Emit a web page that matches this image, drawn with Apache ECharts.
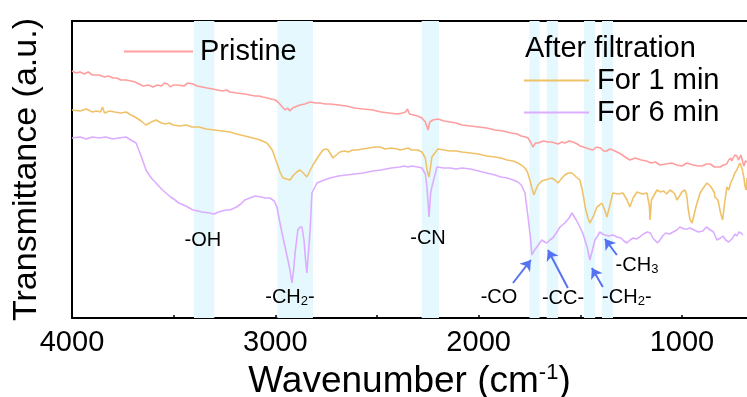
<!DOCTYPE html>
<html>
<head>
<meta charset="utf-8">
<script src="https://cdn.jsdelivr.net/npm/echarts@6/dist/echarts.min.js"></script>
<style>html,body{margin:0;padding:0;background:#fff}#c{width:747px;height:397px}</style>
</head>
<body>
<div id="c"></div>
<script>
// ---- data (wavenumber in cm-1, transmittance in arbitrary units) ----
var pristineWn = [4000,3980,3960,3940,3920,3900,3867,3840,3820,3800,3780,3760,3734,3710,3690,3670,3650,3625,3602,3580,3560,3545,3530,3515,3503,3480,3450,3430,3405,3385,3360,3335,3307,3285,3260,3240,3223,3190,3150,3125,3100,3080,3061,3040,3020,3000,2987,2965,2952,2940,2928,2915,2903,2879,2855,2829,2800,2780,2755,2731,2690,2650,2610,2569,2520,2480,2440,2400,2375,2360,2350,2347,2340,2335,2300,2279,2262,2249,2240,2225,2200,2170,2140,2110,2082,2040,2000,1960,1920,1880,1840,1810,1790,1770,1757,1745,1733,1720,1708,1695,1680,1660,1640,1625,1610,1590,1576,1555,1536,1515,1500,1485,1470,1455,1438,1420,1400,1385,1370,1355,1340,1320,1300,1280,1256,1230,1200,1175,1150,1130,1108,1080,1050,1025,1000,975,946,920,900,880,860,840,813,795,780,770,760,755,749,740,730,722,715,710,705,700,695,688,680];
var pristineT  = [247,245,246,244,246,243,243,241,242,240,240,238,238,237,236,234,232,233,231,233,232,235,234,231,233,233,232,235,234,232,231,230,229,228,227,228,226,225,224,223,222,222,221,220,219,218,216,211,208,210,207,210,211,213,214,216,215,215,214,214,213,212,210,209,208,206,205,204,205,206,209,208,204,204,202,200,196,188,196,198,199,197,196,195,193,192,191,190,188,187,185,184,182,181,180,176,171,175,175,176,177,176,176,175,174,176,175,177,176,174,172,171,170,169,168,171,170,167,167,169,168,166,164,161,158,160,158,157,155,156,153,154,155,153,152,155,153,152,152,154,154,151,151,153,154,158,160,157,158,163,162,158,156,163,161,155,152,157,156];

var min1Wn = [4000,3960,3930,3900,3880,3860,3850,3840,3815,3790,3760,3734,3710,3690,3660,3636,3610,3587,3560,3540,3520,3503,3470,3440,3410,3375,3340,3300,3260,3223,3190,3150,3110,3075,3041,3015,2992,2975,2962,2945,2928,2910,2894,2879,2862,2845,2830,2815,2790,2766,2750,2740,2728,2717,2700,2682,2660,2640,2620,2598,2570,2540,2510,2485,2460,2430,2400,2387,2365,2347,2330,2300,2279,2262,2254,2244,2236,2230,2200,2170,2140,2110,2082,2040,2000,1960,1920,1890,1860,1830,1807,1790,1772,1760,1748,1738,1728,1715,1708,1690,1674,1655,1640,1625,1610,1590,1576,1560,1541,1520,1502,1490,1475,1462,1453,1445,1435,1418,1405,1394,1380,1369,1355,1340,1315,1290,1270,1256,1240,1221,1195,1172,1160,1157,1150,1123,1105,1090,1075,1059,1045,1035,1025,1012,1000,985,978,975,970,960,950,930,911,895,877,860,848,840,838,830,823,810,800,790,779,770,760,749,740,730,722,715,705,700,695,690,684,680];
var min1T  = [208,207,209,206,207,206,211,205,207,206,205,206,203,201,197,193,196,198,195,194,195,193,192,193,191,191,189,188,187,186,184,182,180,178,175,168,155,145,140,139,138,143,146,148,145,141,147,153,161,168,169,168,164,160,163,166,167,166,168,168,169,170,171,171,169,170,169,168,169,170,168,168,166,160,148,141,152,161,169,168,167,167,166,165,164,162,161,160,158,157,155,153,150,146,138,130,123,130,133,137,138,139,140,138,135,140,143,145,145,141,138,128,110,100,95,98,102,111,113,115,108,101,112,125,124,125,118,111,120,126,124,125,112,98,118,128,126,127,124,128,126,124,118,122,126,128,124,120,110,98,95,112,125,130,135,132,128,125,121,123,118,105,98,115,131,128,135,140,145,148,152,155,150,145,140,132,128,140,148,150,142];

var min6Wn = [4000,3960,3930,3900,3867,3835,3800,3770,3734,3710,3685,3660,3636,3610,3587,3560,3538,3515,3500,3474,3440,3405,3380,3360,3326,3300,3280,3243,3223,3190,3170,3150,3125,3100,3070,3050,3026,3005,2992,2980,2967,2952,2938,2928,2918,2910,2903,2889,2879,2869,2859,2852,2845,2835,2828,2820,2795,2760,2731,2690,2650,2610,2569,2520,2480,2430,2387,2365,2347,2330,2300,2279,2262,2254,2244,2236,2230,2205,2170,2140,2110,2082,2040,2000,1960,1920,1890,1860,1830,1807,1790,1772,1757,1745,1738,1725,1713,1700,1689,1675,1664,1650,1635,1615,1600,1576,1555,1541,1520,1502,1490,1477,1465,1453,1440,1428,1415,1404,1390,1379,1360,1340,1320,1300,1285,1271,1255,1240,1225,1207,1190,1170,1155,1143,1120,1108,1095,1080,1060,1044,1025,1010,990,975,960,940,920,897,880,860,845,828,810,798,785,770,750,740,730,720,710,700,690,680];
var min6T  = [180,181,179,181,180,181,179,180,181,178,175,162,148,140,135,129,125,121,119,115,112,108,107,106,105,104,106,108,108,111,114,118,120,122,121,120,120,117,111,98,85,71,58,48,35,48,65,88,91,91,78,60,45,70,91,125,135,138,140,142,143,144,145,147,148,150,151,152,151,152,151,150,144,131,101,125,131,151,150,150,149,150,149,147,145,143,141,140,138,136,133,125,101,80,63,68,71,75,78,76,75,78,80,86,91,95,100,105,98,91,86,78,70,58,68,78,82,86,84,83,82,83,81,80,77,75,78,80,79,81,84,86,85,80,75,78,82,85,84,86,88,91,89,89,90,88,86,87,91,88,86,78,80,82,78,76,80,84,82,86,85,83];

var xTicks = [4000,3500,3000,2500,2000,1500,1000];
var xLabels = [4000,3000,2000,1000];

// bands [from, to]
var bands = [[3400,3300],[2990,2815],[2280,2195],[1750,1700],[1665,1610],[1482,1427],[1393,1339]];

// annotation labels: [text, wavenumber, value]
var notes = [
  ['-OH', 3356, 78],
  ['-CH{s|2}-', 2928, 21],
  ['-CN', 2249, 80],
  ['-CO', 1900, 21],
  ['-CC-', 1585, 20],
  ['-CH{s|2}-', 1271, 21],
  ['-CH{s|3}', 1221, 53]
];
// arrows: [fromWn, fromVal, toWn, toVal]
var arrows = [
  [1831, 35, 1743, 58],
  [1561, 30, 1659, 68],
  [1389, 31, 1443, 50],
  [1320, 63, 1379, 79]
];

function zip(a, b) { return a.map(function (v, i) { return [v, b[i]]; }); }

var chart = echarts.init(document.getElementById('c'), null, {renderer: 'canvas'});
var FONT = 'Liberation Sans, Arial, sans-serif';

var option = {
  animation: false,
  grid: {left: 72, right: 0, top: 21, bottom: 79, containLabel: false, outerBoundsMode: 'none'},
  xAxis: [{
    type: 'value', min: 680, max: 4000, inverse: true,
    name: 'Wavenumber (cm{sup|-1})', nameLocation: 'middle', nameGap: 40,
    nameTextStyle: {fontSize: 37, color: '#000', fontFamily: FONT,
      rich: {sup: {fontSize: 22, verticalAlign: 'top', padding: [0,0,18,0], color: '#000', fontFamily: FONT}}},
    axisLine: {onZero: false, lineStyle: {color: '#000', width: 2}},
    axisTick: {inside: true, length: 3, customValues: xTicks, lineStyle: {color: '#000', width: 1.5}},
    axisLabel: {customValues: xLabels, fontSize: 29, color: '#000', margin: 10, fontFamily: FONT,
      formatter: function (v) { return String(v); }},
    splitLine: {show: false}
  }, {
    type: 'value', position: 'top', min: 680, max: 4000, inverse: true,
    axisLine: {show: true, onZero: false, lineStyle: {color: '#000', width: 2}},
    axisTick: {show: false}, axisLabel: {show: false}, splitLine: {show: false}
  }],
  yAxis: {
    type: 'value', min: 0, max: 297,
    name: 'Transmittance (a.u.)', nameLocation: 'middle', nameGap: 28,
    nameTextStyle: {fontSize: 34, color: '#000', fontFamily: FONT},
    axisLine: {show: true, onZero: false, lineStyle: {color: '#000', width: 2}},
    axisTick: {show: false}, axisLabel: {show: false}, splitLine: {show: false}
  },
  legend: [{
    data: ['Pristine'], left: 124, top: 37, padding: 0, icon: 'rect', itemWidth: 69, itemHeight: 2,
    textStyle: {fontSize: 29, color: '#000', fontFamily: FONT, padding: [0,0,0,2]}
  }, {
    data: ['For 1 min'], left: 524, top: 66, padding: 0, icon: 'rect', itemWidth: 65, itemHeight: 2,
    textStyle: {fontSize: 29, color: '#000', fontFamily: FONT, padding: [0,0,0,3]}
  }, {
    data: ['For 6 min'], left: 524, top: 98, padding: 0, icon: 'rect', itemWidth: 65, itemHeight: 2,
    textStyle: {fontSize: 29, color: '#000', fontFamily: FONT, padding: [0,0,0,3]}
  }],
  graphic: [{
    type: 'text', left: 525, top: 34, z: 100,
    style: {text: 'After filtration', fontSize: 29, fill: '#000', fontFamily: FONT}
  }],
  series: [{
    name: 'bands', type: 'line', data: [], z: 1,
    markArea: {
      silent: true,
      itemStyle: {color: '#e5f8fd'},
      data: bands.map(function (b) { return [{xAxis: b[0]}, {xAxis: b[1]}]; })
    }
  }, {
    name: 'Pristine', type: 'line', data: zip(pristineWn, pristineT), showSymbol: false, z: 3,
    lineStyle: {color: '#ff9e9e', width: 1.6}, itemStyle: {color: '#ff9e9e'}
  }, {
    name: 'For 1 min', type: 'line', data: zip(min1Wn, min1T), showSymbol: false, z: 3,
    lineStyle: {color: '#f0c268', width: 1.6}, itemStyle: {color: '#f0c268'}
  }, {
    name: 'For 6 min', type: 'line', data: zip(min6Wn, min6T), showSymbol: false, z: 3,
    lineStyle: {color: '#dcadff', width: 1.6}, itemStyle: {color: '#dcadff'},
    markPoint: {
      silent: true, symbol: 'circle', symbolSize: 0,
      label: {
        show: true, position: 'inside', color: '#000', fontSize: 20, fontFamily: FONT,
        formatter: function (p) { return p.name; },
        rich: {s: {fontSize: 13, verticalAlign: 'bottom', padding: [9,0,0,0], color: '#000', fontFamily: FONT}}
      },
      data: notes.map(function (n) { return {name: n[0], coord: [n[1], n[2]]}; })
    },
    markLine: {
      silent: true, symbol: ['none', 'arrow'], symbolSize: [10, 10],
      label: {show: false},
      lineStyle: {color: '#5572f2', width: 2, type: 'solid'},
      data: arrows.map(function (a) { return [{coord: [a[0], a[1]]}, {coord: [a[2], a[3]]}]; })
    }
  }]
};
chart.setOption(option);
</script>
</body>
</html>
